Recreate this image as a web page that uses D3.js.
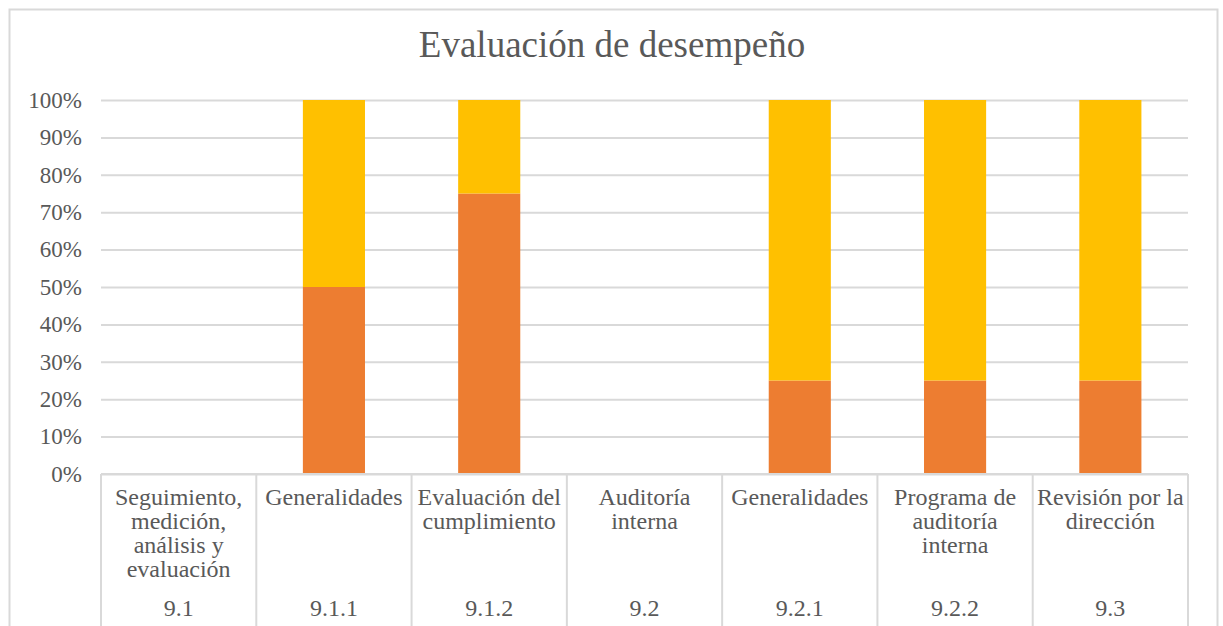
<!DOCTYPE html>
<html>
<head>
<meta charset="utf-8">
<script src="https://cdn.jsdelivr.net/npm/d3@7"></script>
<style>
  body { margin: 0; background: #fff; }
  text { font-family: "Liberation Serif", "Times New Roman", serif; fill: #595959; }
</style>
</head>
<body>
<script>
// chart data
var codes = ["9.1", "9.1.1", "9.1.2", "9.2", "9.2.1", "9.2.2", "9.3"];
var names = [
  ["Seguimiento,", "medición,", "análisis y", "evaluación"],
  ["Generalidades"],
  ["Evaluación del", "cumplimiento"],
  ["Auditoría", "interna"],
  ["Generalidades"],
  ["Programa de", "auditoría", "interna"],
  ["Revisión por la", "dirección"]
];
var seriesA = [0, 50, 75, 0, 25, 25, 25];   // orange
var seriesB = [0, 50, 25, 0, 75, 75, 75];   // yellow
var yTicks = [0, 10, 20, 30, 40, 50, 60, 70, 80, 90, 100];

var W = 1223, H = 626;
var margin = { top: 100, right: 35, bottom: 152, left: 101 },
    width = W - margin.left - margin.right,
    height = H - margin.top - margin.bottom;

var svg = d3.select("body").append("svg")
  .attr("width", W)
  .attr("height", H);

// chart border
svg.append("rect")
  .attr("x", 9.5).attr("y", 9.5)
  .attr("width", 1208).attr("height", 640)
  .attr("fill", "none")
  .attr("stroke", "#d9d9d9")
  .attr("stroke-width", 2);

// title
svg.append("text")
  .attr("x", 612)
  .attr("y", 57)
  .attr("text-anchor", "middle")
  .style("font-size", "37px")
  .text("Evaluación de desempeño");

var g = svg.append("g")
  .attr("transform", "translate(" + margin.left + "," + margin.top + ")");

var xScale = d3.scaleBand()
  .domain(codes)
  .range([0, width])
  .paddingInner(0.6)
  .paddingOuter(0.3);

var xOuter = d3.scaleBand()
  .domain(codes)
  .range([0, width]);

var yScale = d3.scaleLinear()
  .domain([0, 100])
  .range([height, 0]);

// gridlines + tick labels
var yAxis = g.append("g")
  .call(d3.axisLeft(yScale)
    .tickValues(yTicks)
    .tickSize(-width)
    .tickPadding(19)
    .tickFormat(function (d) { return d + "%"; }));
yAxis.select(".domain").remove();
yAxis.selectAll(".tick line").attr("stroke", "#d9d9d9").attr("stroke-width", 2);
yAxis.selectAll(".tick text")
  .style("font-size", "23px")
  .attr("dy", "0.32em")
  .attr("fill", "#595959");

// stacked bars
var stackData = codes.map(function (c, i) {
  return { code: c, a: seriesA[i], b: seriesB[i] };
});
var stacked = d3.stack().keys(["a", "b"])(stackData);
var colors = { a: "#ED7D31", b: "#FFC000" };

g.selectAll(".series")
  .data(stacked)
  .enter().append("g")
  .attr("fill", function (d) { return colors[d.key]; })
  .selectAll("rect")
  .data(function (d) { return d; })
  .enter().append("rect")
  .attr("x", function (d) { return xScale(d.data.code); })
  .attr("y", function (d) { return yScale(d[1]); })
  .attr("width", xScale.bandwidth())
  .attr("height", function (d) { return yScale(d[0]) - yScale(d[1]); });

// category axis: table-style lines
var axisG = g.append("g").attr("transform", "translate(0," + height + ")");
axisG.append("line")
  .attr("x1", 0).attr("x2", width)
  .attr("y1", 0).attr("y2", 0)
  .attr("stroke", "#d9d9d9").attr("stroke-width", 2);

var bounds = codes.map(function (c) { return xOuter(c); }).concat([width]);
axisG.selectAll(".sep")
  .data(bounds)
  .enter().append("line")
  .attr("x1", function (d) { return d; })
  .attr("x2", function (d) { return d; })
  .attr("y1", 0).attr("y2", margin.bottom + 5)
  .attr("stroke", "#d9d9d9").attr("stroke-width", 2);

// category names
axisG.selectAll(".name")
  .data(codes)
  .enter().append("text")
  .attr("text-anchor", "middle")
  .attr("x", function (d) { return xOuter(d) + xOuter.bandwidth() / 2; })
  .attr("y", 31)
  .style("font-size", "24px")
  .each(function (d, i) {
    var t = d3.select(this);
    names[i].forEach(function (line, j) {
      t.append("tspan")
        .attr("x", xOuter(d) + xOuter.bandwidth() / 2)
        .attr("dy", j === 0 ? 0 : 24)
        .text(line);
    });
  });

// codes row
axisG.selectAll(".code")
  .data(codes)
  .enter().append("text")
  .attr("text-anchor", "middle")
  .attr("x", function (d) { return xOuter(d) + xOuter.bandwidth() / 2; })
  .attr("y", 142)
  .style("font-size", "24px")
  .text(function (d) { return d; });
</script>
</body>
</html>
